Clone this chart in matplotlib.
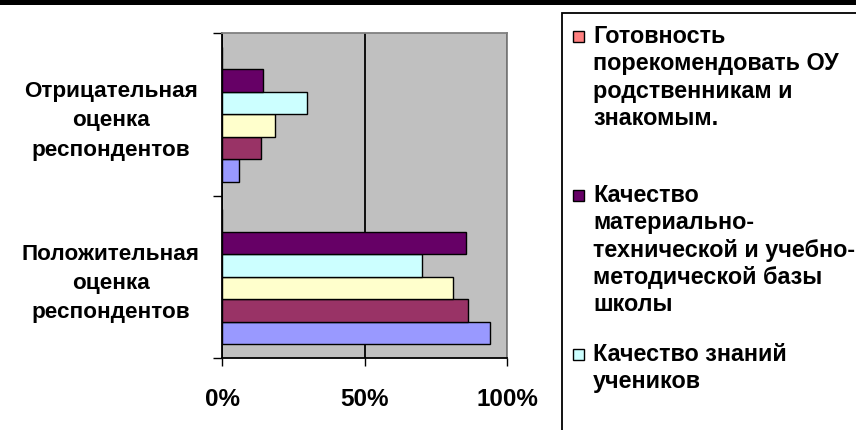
import matplotlib
matplotlib.use('Agg')
import matplotlib.pyplot as plt
from matplotlib.patches import Rectangle

plt.rcParams['font.family'] = ['Liberation Sans', 'DejaVu Sans']

# категории (снизу вверх)
categories = ['Положительная\nоценка\nреспондентов', 'Отрицательная\nоценка\nреспондентов']

# ряды в порядке Excel (первый ряд внизу группы)
series_colors = ['#9999FF', '#993366', '#FFFFCC', '#CCFFFF', '#660066', '#FF8080']
series_values = [
    [94.0, 6.1],    # сиреневый
    [86.2, 13.6],   # бордовый
    [81.2, 18.6],   # жёлтый
    [70.0, 29.9],   # голубой - Качество знаний учеников
    [85.6, 14.5],   # фиолетовый - Качество материально-технической ... базы
    [0.0, 0.0],     # розовый - Готовность порекомендовать ОУ
]

# видимая часть легенды (остальное обрезано)
legend_labels = [
    'Готовность\nпорекомендовать ОУ\nродственникам и\nзнакомым.\n',
    'Качество\nматериально-\nтехнической и учебно-\nметодической базы\nшколы',
    'Качество знаний\nучеников',
]
legend_colors = ['#FF8080', '#660066', '#CCFFFF']

xticks = [0, 50, 100]
xtick_labels = ['0%', '50%', '100%']

W, H = 856, 430
fig = plt.figure(figsize=(W / 100, H / 100), dpi=100)
fig.patch.set_facecolor('white')

ax = fig.add_axes([222 / W, 1 - 358 / H, 285 / W, 325 / H])
ax.set_facecolor('#C0C0C0')

h = 0.138
n = len(series_values)
for i, (vals, col) in enumerate(zip(series_values, series_colors)):
    ys = [c - (n - 1) / 2 * h + i * h for c in range(len(categories))]
    ax.barh(ys, vals, height=h, color=col, edgecolor='black', linewidth=1.0, zorder=3)

ax.set_xlim(0, 100)
ax.set_ylim(-0.5, len(categories) - 0.5)

ax.set_xticks(xticks)
ax.set_xticklabels(xtick_labels, fontsize=17.5, fontweight='bold')
ax.tick_params(axis='x', direction='out', length=6, width=1, pad=15.5)

ax.set_yticks([-0.5, 0.5, 1.5])
ax.set_yticklabels(['', '', ''])
ax.tick_params(axis='y', which='major', direction='out', length=6.5, width=1)
ax.set_yticks([0, 1], minor=True)
ax.set_yticklabels(categories, minor=True, fontsize=16.2, fontweight='bold',
                   ha='center', multialignment='center', linespacing=1.52)
ax.tick_params(axis='y', which='minor', length=0, pad=80)

ax.set_axisbelow(True)
ax.xaxis.grid(True, color='black', linewidth=1.3)
ax.yaxis.grid(False)

for s in ['left', 'bottom']:
    ax.spines[s].set_color('black')
    ax.spines[s].set_linewidth(1.3)
for s in ['top', 'right']:
    ax.spines[s].set_color('#808080')
    ax.spines[s].set_linewidth(1.3)

# чёрная полоса сверху
fig.patches.append(Rectangle((0, 1 - 5 / H), 1, 5 / H, transform=fig.transFigure,
                             facecolor='black', edgecolor='none'))

# рамка легенды (уходит за край картинки)
fig.patches.append(Rectangle((562 / W, -0.1), 0.6, 1 - 13 / H + 0.1, transform=fig.transFigure,
                             facecolor='white', edgecolor='black', linewidth=1.3))

pitch = 29.5
y = 25
for lab, col in zip(legend_labels, legend_colors):
    fig.patches.append(Rectangle((573 / W, 1 - (y + 17) / H), 11 / W, 11 / H,
                                 transform=fig.transFigure, facecolor=col,
                                 edgecolor='black', linewidth=1.0))
    fig.text(593 / W, 1 - y / H, lab, fontsize=16.8, fontweight='bold',
             va='top', ha='left', linespacing=1.24)
    y += (lab.count('\n') + 1) * pitch + 11.5

fig.savefig('out.png', dpi=100)
